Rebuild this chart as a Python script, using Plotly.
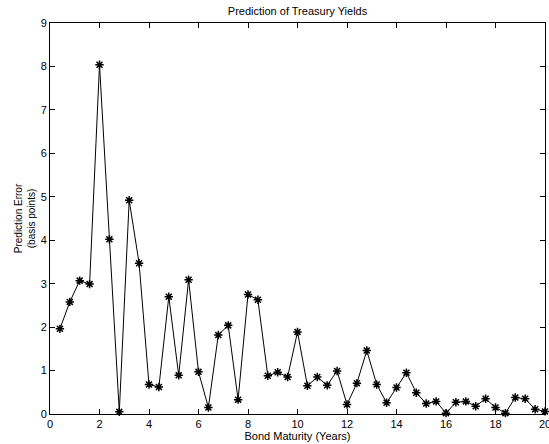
import plotly.graph_objects as go

maturity = [0.4, 0.8, 1.2, 1.6, 2.0, 2.4, 2.8, 3.2, 3.6, 4.0,
            4.4, 4.8, 5.2, 5.6, 6.0, 6.4, 6.8, 7.2, 7.6, 8.0,
            8.4, 8.8, 9.2, 9.6, 10.0, 10.4, 10.8, 11.2, 11.6, 12.0,
            12.4, 12.8, 13.2, 13.6, 14.0, 14.4, 14.8, 15.2, 15.6, 16.0,
            16.4, 16.8, 17.2, 17.6, 18.0, 18.4, 18.8, 19.2, 19.6, 20.0]
error_bp = [1.96, 2.58, 3.07, 2.99, 8.04, 4.02, 0.05, 4.92, 3.47, 0.68,
            0.62, 2.70, 0.89, 3.09, 0.97, 0.15, 1.82, 2.04, 0.33, 2.75,
            2.63, 0.88, 0.96, 0.85, 1.89, 0.65, 0.85, 0.66, 0.99, 0.22,
            0.71, 1.46, 0.68, 0.26, 0.61, 0.95, 0.49, 0.24, 0.29, 0.02,
            0.27, 0.29, 0.18, 0.35, 0.15, 0.02, 0.38, 0.35, 0.11, 0.06]
x_ticks = [0, 2, 4, 6, 8, 10, 12, 14, 16, 18, 20]
y_ticks = [0, 1, 2, 3, 4, 5, 6, 7, 8, 9]

font = "Liberation Sans, Arial, sans-serif"

fig = go.Figure(go.Scatter(
    x=maturity, y=error_bp, mode="lines+markers",
    line=dict(color="black", width=1),
    marker=dict(symbol="asterisk-open", size=7, color="black",
                line=dict(color="black", width=1.5)),
    cliponaxis=False,
))

axis_common = dict(
    showline=True, linecolor="black", linewidth=1, mirror="ticks",
    ticks="inside", ticklen=5, tickcolor="black", tickwidth=1,
    showgrid=False, zeroline=False, automargin=False,
    tickfont=dict(family=font, size=11, color="black"),
)

fig.update_layout(
    width=549, height=444,
    margin=dict(l=50, r=4, t=23, b=30),
    paper_bgcolor="white", plot_bgcolor="white",
    showlegend=False,
    title=dict(text="Prediction of Treasury Yields", x=0.5, xanchor="center",
               xref="paper", y=1 - 11/444, yanchor="middle",
               font=dict(family=font, size=11, color="black")),
    xaxis=dict(range=[0, 20.0001], tickvals=x_ticks, ticktext=[str(t) for t in x_ticks],
               ticklabeloverflow="allow",
               title=dict(text="Bond Maturity (Years)", standoff=1,
                          font=dict(family=font, size=11, color="black")),
               **axis_common),
    yaxis=dict(range=[0, 9], tickvals=y_ticks, ticktext=[str(t) for t in y_ticks],
               title=dict(text="Prediction Error<br>(basis points)", standoff=3,
                          font=dict(family=font, size=10, color="black")),
               **axis_common),
)

fig.write_html("out.html", config={"displayModeBar": False},
               post_script="document.body.style.margin='0';document.body.style.overflow='hidden';")
